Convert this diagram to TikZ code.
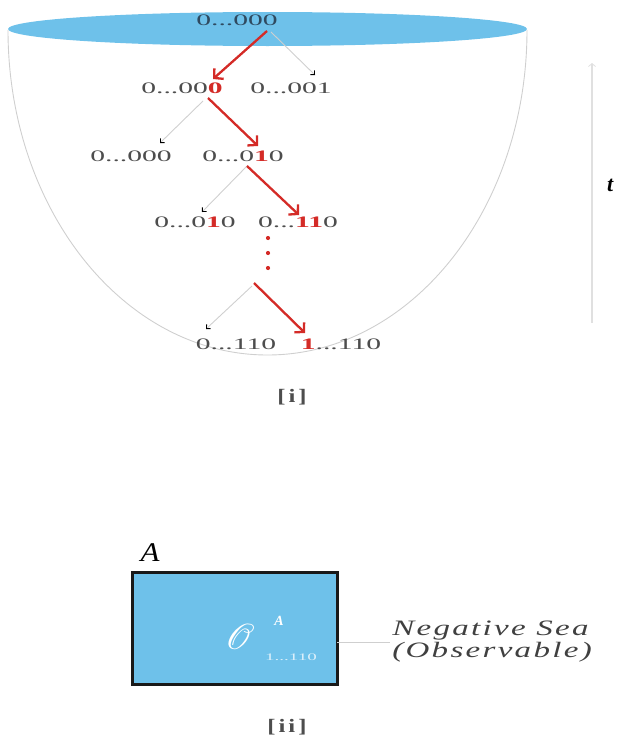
\documentclass[tikz,border=0pt]{standalone}
\usepackage{fontspec}
\usepackage{mathrsfs}
\setmainfont{Liberation Serif}
\newfontfamily\spacedS[LetterSpace=7]{Liberation Serif}
\newfontfamily\capfont[LetterSpace=12]{Liberation Serif}
\usetikzlibrary{arrows.meta}
\definecolor{sea}{HTML}{6EC1EA}
\definecolor{redarr}{HTML}{D42B27}
\definecolor{lbl}{HTML}{4D4D4D}
\definecolor{toplbl}{HTML}{2F4A60}
\definecolor{cupline}{HTML}{CFCFCF}
\newcommand\R[1]{\textcolor{redarr}{\bfseries #1}}
\begin{document}
\begin{tikzpicture}[x=1pt,y=-1pt,
  digit/.style={inner sep=0pt, text=lbl, xscale=1.85, font=\fontsize{16}{17}\selectfont},
  redarrow/.style={draw=redarr, line width=2.3pt, -{Straight Barb[length=6.5pt,width=14pt]}},
  grayarrow/.style={draw=cupline, line width=0.9pt, -{Straight Barb[length=3pt,width=6pt,color=black,line width=0.9pt]}},
  caption/.style={inner sep=0pt, text=lbl, xscale=1.3, font=\capfont\bfseries\fontsize{19}{20}\selectfont}]
\useasboundingbox (0,0) rectangle (617,744);
% cup
\begin{scope}
\clip (0,30) rectangle (617,744);
\draw[cupline, line width=0.9pt] (267.5,30) ellipse [x radius=259.5, y radius=325];
\end{scope}
\fill[sea] (267.5,29) ellipse [x radius=259.5, y radius=17];
% labels
\node[digit, text=toplbl] (n0) at (237,20) {0...000};
\node[digit] (n1a) at (182,88) {0...00\R{0}};
\node[digit] (n1b) at (291,88) {0...001};
\node[digit] (n2a) at (131,156) {0...000};
\node[digit] (n2b) at (243,156) {0...0\R{1}0};
\node[digit] (n3a) at (195,222) {0...0\R{1}0};
\node[digit] (n3b) at (298,222) {0...\R{11}0};
\node[digit] (n4a) at (236,344) {0...110};
\node[digit] (n4b) at (341,344) {\R{1}...110};
% dots
\foreach \yy in {238,253,268} \fill[redarr] (268,\yy) circle (2.1);
% arrows
\coordinate (f0r) at (267,31);
\coordinate (f0g) at (271,32);
\coordinate (e0r) at (213,79);
\coordinate (e0g) at (315,75);
\coordinate (f1r) at (208,98);
\coordinate (f1g) at (203,101);
\coordinate (e1g) at (160,143);
\coordinate (e1r) at (258,146);
\coordinate (f2) at (247,166);
\coordinate (e2g) at (202,212);
\coordinate (e2r) at (299,215);
\coordinate (f3r) at (254,283);
\coordinate (f3g) at (252,286);
\coordinate (e3g) at (206,329);
\coordinate (e3r) at (305,333);
\draw[grayarrow] (f0g) -- (e0g);
\draw[redarrow] (f0r) -- (e0r);
\draw[grayarrow] (f1g) -- (e1g);
\draw[redarrow] (f1r) -- (e1r);
\draw[grayarrow] (f2) -- (e2g);
\draw[redarrow] (f2) -- (e2r);
\draw[grayarrow] (f3g) -- (e3g);
\draw[redarrow] (f3r) -- (e3r);
\node[caption] (capi) at (292,397) {[i]};
% time axis
\coordinate (tb) at (592,323);
\coordinate (tt) at (592,63);
\draw[draw=black!12, line width=1.3pt, -{Straight Barb[length=3pt,width=7pt,line width=0.8pt]}] (tb) -- (tt);
\node[font=\bfseries\itshape\fontsize{22}{22}\selectfont, inner sep=0pt, anchor=west] (tlab) at (607,185) {t};
% panel ii
\node[font=\itshape\fontsize{27}{27}\selectfont, xscale=1.15, inner sep=0pt] (A) at (150,553) {A};
\node[draw=black!90, line width=2.6pt, fill=sea, minimum width=205pt, minimum height=112pt, anchor=north west, inner sep=0pt] (box) at (131,571) {};
\node[text=white, inner sep=0pt, scale=1.45] (obs) at (240,637) {\fontsize{24}{24}\selectfont$\mathscr{O}$};
\node[text=white, inner sep=0pt, font=\bfseries\itshape\fontsize{14}{14}\selectfont] (supA) at (279,621) {A};
\node[text=white!75!sea, inner sep=0pt, xscale=1.9, font=\fontsize{10}{10}\selectfont] (sub) at (291,657) {1...110};
\node[inner sep=0pt, anchor=west, align=left, xscale=1.5, text=black!75, font=\spacedS\itshape\fontsize{22}{22}\selectfont] (neg) at (392,642) {Negative Sea\\(Observable)};
\coordinate (ls) at (337,642);
\coordinate (le) at (390,642);
\draw[cupline, line width=0.8pt] (ls) -- (le);
\node[caption] (capii) at (287,727) {[ii]};
\end{tikzpicture}
\end{document}
